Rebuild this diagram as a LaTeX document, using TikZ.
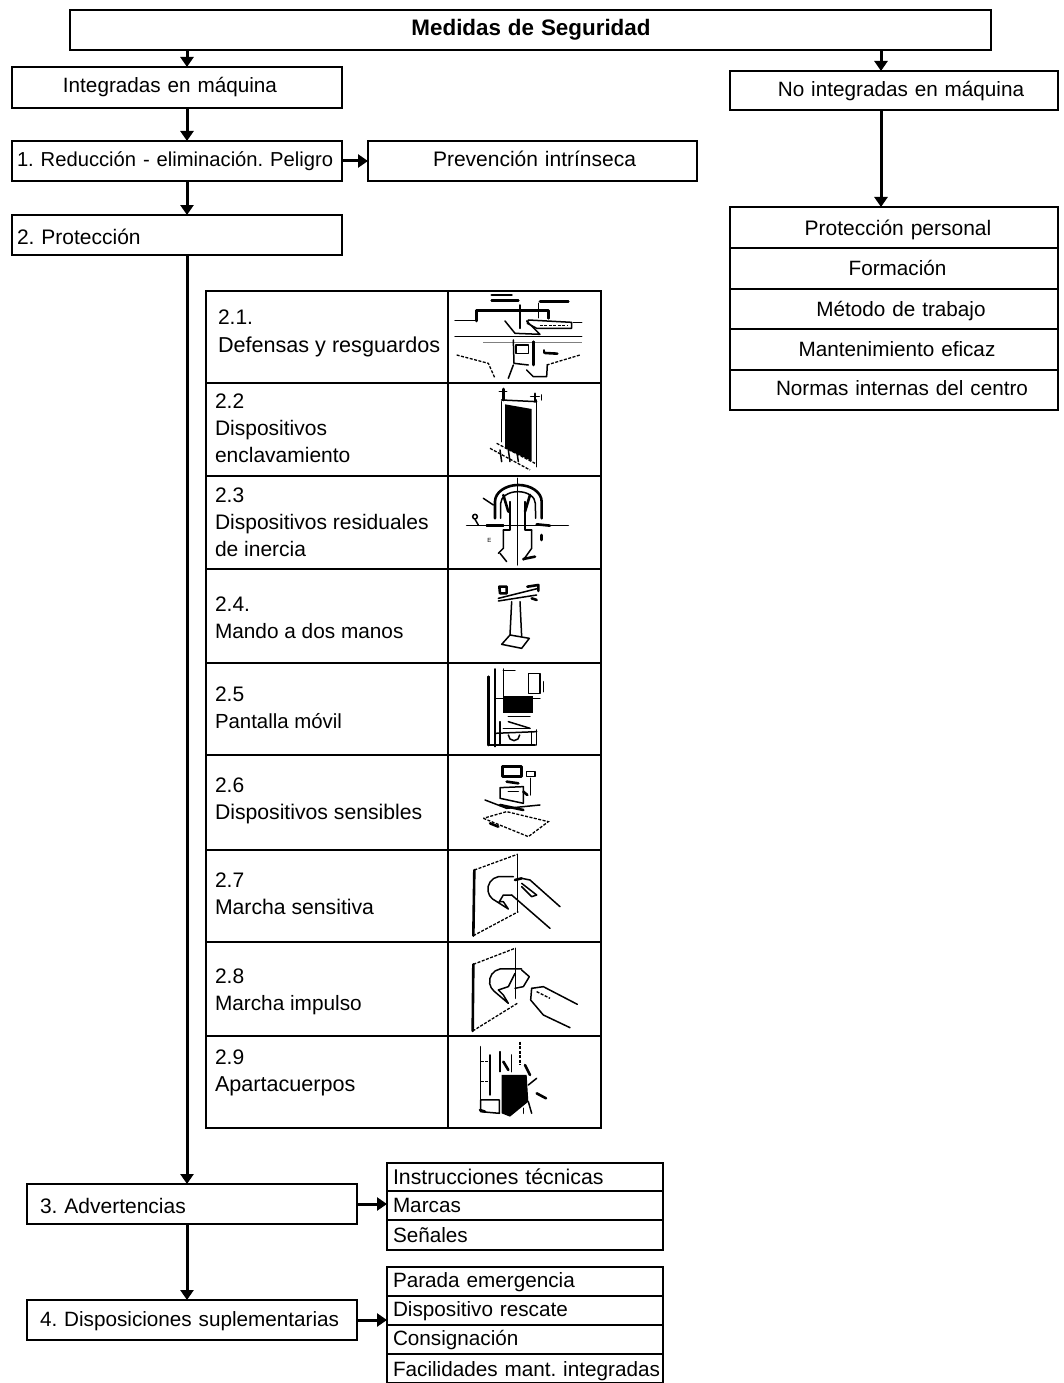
\documentclass[tikz,border=0pt]{standalone}
\usepackage{fontspec}
\setmainfont{Liberation Sans}
\usetikzlibrary{arrows.meta,calc}
\tikzset{
  bx/.style={draw=black,line width=1.4pt,rectangle,inner sep=0pt,outer sep=0pt,text height=14pt,text depth=5pt,font=\frenchspacing\fontsize{20.7}{24}\selectfont,anchor=west},
  lbl/.style={inner sep=0pt,outer sep=0pt,align=left,anchor=north west,font=\frenchspacing\fontsize{21}{27}\selectfont},
  arr/.style={line width=3pt,-{Triangle[length=10pt,width=13pt]}},
  ik/.style={line width=1.5pt,line cap=round,line join=round},
  ikb/.style={line width=2.6pt,line cap=round,line join=round},
  iks/.style={line width=1.3pt,dash pattern=on 3pt off 1.5pt},
  zoomed/.style={shift={(#1)},x=0.3333pt,y=-0.3333pt},
}
% \pb{name}{x1}{y1}{x2}{y2}{left pad}{align}{text}
\newcommand{\pb}[8]{%
  \pgfmathsetmacro{\pbw}{#4-#2}\pgfmathsetmacro{\pbh}{#5-#3}%
  \pgfmathsetmacro{\pbtw}{#4-#2-2*#6}\pgfmathsetmacro{\pbcy}{(#3+#5)/2}%
  \node[bx,minimum height=\pbh pt,inner xsep=#6 pt,text width=\pbtw pt,align=#7] (#1) at (#2,\pbcy) {#8};%
}
\newcommand{\lead}[1]{\rule{#1pt}{0pt}}
\newcommand{\low}[2]{\raisebox{#1pt}{#2}}
\newcommand{\sz}[1]{\fontsize{#1}{27}\selectfont}
\begin{document}
\begin{tikzpicture}[x=1pt,y=-1pt]
\useasboundingbox (0,0) rectangle (1063,1383);
\fill[white] (0,0) rectangle (1063,1383);
% top boxes
\pb{title}{70}{10}{991}{50}{2}{center}{\sz{22.4}\lead{1}\low{-1}{\textbf{Medidas de Seguridad}}}
\pb{integ}{12}{67}{342}{108}{2}{center}{\low{-1}{Integradas en máquina}\lead{14}}
\pb{noint}{730}{71}{1058}{110}{2}{center}{\lead{14}\low{-2}{No integradas en máquina}}
\pb{redu}{12}{141}{342}{181}{5}{left}{\sz{20.2}\low{-1.5}{1. Reducción - eliminación. Peligro}}
\pb{prev}{368}{141}{697}{181}{2}{center}{\lead{4}\sz{21}\low{-1.5}{Prevención intrínseca}}
\pb{prot}{12}{215}{342}{255}{5}{left}{\sz{21}\low{-4.5}{2. Protección}}
% right stack
\pb{r1}{730}{207}{1058}{248}{2}{center}{\lead{8}\sz{21}\low{-3}{Protección personal}}
\pb{r2}{730}{248}{1058}{289}{2}{center}{\lead{7}\low{-2}{Formación}}
\pb{r3}{730}{289}{1058}{329}{2}{center}{\lead{14}\low{-2.5}{Método de trabajo}}
\pb{r4}{730}{329}{1058}{370}{2}{center}{\lead{6}\low{-2}{Mantenimiento eficaz}}
\pb{r5}{730}{370}{1058}{410}{2}{center}{\lead{16}\low{-0.5}{Normas internas del centro}}
% table
\foreach \n/\ya/\yb in {1/291/383,2/383/476,3/476/569,4/569/663,5/663/755,6/755/850,7/850/942,8/942/1036,9/1036/1128}{
  \pb{c\n}{206}{\ya}{448}{\yb}{2}{left}{}
  \pb{p\n}{448}{\ya}{601}{\yb}{2}{left}{}
}
\node[lbl] (t1) at (218,310) {2.1.};
\node[lbl] (t1b) at (218,337) {\sz{21.6}Defensas y resguardos};
\node[lbl] (t2) at (215,394) {2.2\\Dispositivos\\enclavamiento};
\node[lbl] (t3) at (215,488) {2.3\\Dispositivos residuales\\de inercia};
\node[lbl] (t4) at (215,597) {2.4.\\\sz{20.8}Mando a dos manos};
\node[lbl] (t5) at (215,687) {2.5\\\sz{20.4}Pantalla móvil};
\node[lbl] (t6) at (215,778) {2.6\\\sz{21.2}Dispositivos sensibles};
\node[lbl] (t7) at (215,873) {2.7\\\sz{21.2}Marcha sensitiva};
\node[lbl] (t8) at (215,969) {2.8\\\sz{20.8}Marcha impulso};
\node[lbl] (t9) at (215,1050) {2.9\\\sz{21.6}Apartacuerpos};
% lower
\pb{adv}{27}{1184}{357}{1224}{13}{left}{\sz{21}\low{-4.5}{3. Advertencias}}
\pb{a1}{387}{1163}{663}{1191}{6}{left}{\sz{21.3}\low{-2.5}{Instrucciones técnicas}}
\pb{a2}{387}{1191}{663}{1220}{6}{left}{\low{-2}{Marcas}}
\pb{a3}{387}{1220}{663}{1250}{6}{left}{\low{-2.5}{Señales}}
\pb{disp}{27}{1300}{357}{1340}{13}{left}{\low{-1.5}{4. Disposiciones suplementarias}}
\pb{d1}{387}{1267}{663}{1296}{6}{left}{\low{-1}{Parada emergencia}}
\pb{d2}{387}{1296}{663}{1325}{6}{left}{\low{-1}{Dispositivo rescate}}
\pb{d3}{387}{1325}{663}{1354}{6}{left}{\low{-1}{Consignación}}
\pb{d4}{387}{1354}{663}{1383}{6}{left}{\low{-3}{Facilidades mant. integradas}}
% connectors
\coordinate (L) at (187,0);
\coordinate (R) at (881,0);
\draw[arr] (L |- title.south) -- (L |- integ.north);
\draw[arr] (L |- integ.south) -- (L |- redu.north);
\draw[arr] (L |- redu.south) -- (L |- prot.north);
\draw[arr] (L |- prot.south) -- (L |- adv.north);
\draw[arr] (L |- adv.south) -- (L |- disp.north);
\draw[arr] (R |- title.south) -- (R |- noint.north);
\draw[arr] (R |- noint.south) -- (R |- r1.north);
\draw[arr] (redu.east) -- (prev.west);
\draw[arr] (adv.east) -- (adv.east -| a2.west);
\draw[arr] (disp.east) -- (disp.east -| d2.west);
% icons, in zoomed coordinates
\begin{scope}[zoomed={440,285}]
  % 2.1
  \draw[ikb] (155,30)--(215,30);\draw[ikb] (155,46)--(235,46);
  \draw[ikb] (300,50)--(385,50);
  \draw[ikb] (110,108)--(110,76)--(325,76)--(325,100);
  \draw[ik] (45,107)--(110,107);
  \draw[ik] (240,60)--(240,130);\draw[ik] (295,55)--(295,98);
  \draw[ik] (265,105)--(395,112)--(395,130)--(290,130)--(262,115)--cycle;
  \draw[iks] (300,122)--(385,122);
  \draw[ik] (400,113)--(425,113);
  \draw[ik] (195,108)--(225,145)--(300,148)--(260,108);
  \draw[ik] (45,155)--(425,155);
  \draw[line width=.6pt,gray] (130,172)--(425,172);
  \draw[ik] (220,165)--(222,235)--(265,240);
  \draw[ikb] (280,170)--(280,240);
  \draw[ik] (228,180) rectangle (265,205);
  \draw[ikb] (315,204)--(352,206);\draw[ik] (312,195)--(312,204);
  \draw[iks] (50,210)--(145,235)--(165,280);
  \draw[iks] (320,240)--(420,210);
  \draw[ik] (220,240)--(205,280);
  \draw[ik] (260,255)--(280,275)--(320,275)--(322,240);
  % 2.2
  \fill (195,358)--(275,372)--(275,528)--(195,490)--cycle;
  \draw[ik] (185,350)--(185,470);\draw[ik] (290,345)--(290,545);
  \draw[ik] (185,345)--(290,350);
  \draw[ikb] (190,312)--(190,345);\draw[ikb] (285,326)--(285,350);
  \draw[ik] (178,320)--(200,320);\draw[ik] (272,335)--(298,335);
  \draw[iks] (150,490)--(270,555);\draw[iks] (170,475)--(285,535);
  \draw[ik] (305,330)--(305,345);
  \foreach \q in {180,205,230}{\draw[ik] (\q,495)--(\q+5,530);}
  % 2.3
  \draw[ikb] (165,700)--(165,650) arc[start angle=180,end angle=360,x radius=70,y radius=50]--(305,700);
  \draw[ik] (182,700)--(182,655) arc[start angle=180,end angle=360,x radius=52,y radius=35]--(287,700);
  \draw[ik] (232,580)--(232,840);
  \draw[ik] (80,722)--(385,722);
  \draw[ikb] (140,722)--(190,722);\draw[ikb] (290,718)--(330,722);
  \draw[ik] (190,735)--(190,790)--(175,805);\draw[ik] (275,735)--(275,790)--(250,825);
  \draw[ik] (210,650)--(210,735)--(190,735);\draw[ik] (255,650)--(255,735)--(275,735);
  \draw[ik] (180,805)--(200,830);\draw[ikb] (250,822)--(285,815);
  \draw[ikb] (190,630)--(205,680);\draw[ikb] (270,630)--(255,680);
  \draw[ik] (130,640)--(160,660);\draw[ik] (105,695) circle[radius=7];\draw[ik] (105,703)--(115,720);
  \node[font=\fontsize{6}{7}\selectfont,inner sep=0pt] (e3) at (148,765) {E};
  \draw[ikb] (305,750)--(305,765);
\end{scope}
\begin{scope}[zoomed={440,565}]
  % 2.4
  \draw[ik] (175,100)--(295,70);\draw[ik] (175,108)--(290,90);
  \draw[ikb] (178,65)--(200,65)--(200,85)--(180,85)--cycle;
  \draw[ikb] (262,65)--(295,60)--(295,78);\draw[ikb] (275,100)--(290,105);
  \draw[ik] (215,110)--(210,210);\draw[ik] (240,110)--(245,215);
  \draw[ik] (210,210)--(185,238)--(245,250)--(268,220)--cycle;
  % 2.5
  \fill (190,392) rectangle (280,445);
  \draw[ik] (165,312)--(165,545);\draw[ik] (190,312)--(190,400);\draw[ik] (190,316)--(225,316);
  \draw[ikb] (145,335)--(145,540);\draw[ik] (265,325)--(265,385)--(300,385)--(300,325)--cycle;
  \draw[ik] (310,350)--(310,380);
  \draw[ik] (165,400)--(300,400);\draw[ik] (205,455)--(270,455);\draw[ik] (205,470)--(270,490);
  \draw[ik] (190,490)--(270,490);\draw[ikb] (145,540)--(285,540);\draw[ik] (165,505)--(290,500);
  \draw[ik] (275,500)--(275,540);\draw[ik] (290,495)--(290,540);
  \draw[ik] (180,470)--(180,540);\draw[ik] (205,510) arc[start angle=180,end angle=0,radius=17];
  % 2.6
  \draw[ikb] (188,605)--(245,605)--(245,635)--(188,635)--cycle;
  \draw[ik] (260,620) rectangle (285,635);\draw[ik] (272,640)--(272,690);
  \draw[ik] (180,668)--(250,665)--(250,715)--(180,700)--cycle;
  \draw[ik] (205,680)--(235,680);\draw[ikb] (200,650)--(235,655);
  \draw[ikb] (250,680)--(262,690);
  \draw[ik] (135,705)--(200,730)--(300,720);\draw[ikb] (180,720)--(250,735);
  \draw[iks] (130,760)--(265,815)--(325,770)--(200,740)--cycle;
  \draw[ikb] (150,775)--(175,785);
\end{scope}
\begin{scope}[zoomed={440,845}]
  % 2.7
  \draw[iks] (103,75)--(232,28);
  \draw[ikb] (103,75)--(100,272);\draw[iks] (100,272)--(235,200);
  \draw[ik] (232,28)--(232,200);
  \draw[ik] (220,95)--(175,95) arc[start angle=-100,end angle=-230,radius=38]--(205,192)--(190,170)--(178,170)--(190,150)--(215,150);
  \draw[ikb] (225,105)--(245,100);\draw[ik] (245,100)--(270,105)--(360,185);
  \draw[ik] (245,125)--(275,155)--(290,150)--(245,115);
  \draw[ik] (215,150)--(330,250);
  % 2.8
  \draw[iks] (100,358)--(225,310);
  \draw[ikb] (100,358)--(98,558);\draw[iks] (98,558)--(232,475);
  \draw[ik] (227,310)--(227,460);
  \draw[ik] (245,372)--(180,372) arc[start angle=-100,end angle=-230,radius=38]--(205,475)--(190,450)--(175,435)--(205,425)--(225,385);
  \draw[ik] (245,375)--(268,395)--(250,425)--(225,430);
  \draw[ik] (275,430)--(310,425)--(412,478);
  \draw[ik] (275,430)--(272,465)--(310,510)--(390,548);
  \draw[iks] (290,440)--(330,460);
  % 2.9
  \draw[ik] (122,605)--(122,790);\draw[ik] (150,630)--(150,750);
  \draw[iks] (122,650)--(150,650);\draw[iks] (122,710)--(150,710);
  \draw[ik] (122,765)--(178,765)--(178,805)--(122,800)--cycle;
  \draw[ikb] (120,795)--(135,800);
  \draw[ik] (180,620)--(180,680);\draw[iks] (240,590)--(240,660);\draw[ik] (215,630)--(215,680);
  \fill (185,690)--(260,690)--(265,770)--(210,815)--(185,805)--cycle;
  \draw[ikb] (190,650)--(205,675);\draw[ikb] (255,660)--(270,690);
  \draw[ik] (265,720)--(290,700);\draw[ikb] (290,745)--(318,760);\draw[ik] (265,770)--(275,805);
  \draw[ik] (250,790)--(250,805);
\end{scope}
\end{tikzpicture}
\end{document}
